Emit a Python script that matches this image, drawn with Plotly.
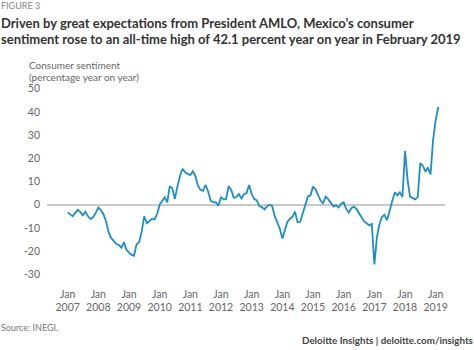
import pandas as pd
import plotly.graph_objects as go

# ---------------- data ----------------
start_month = "2007-01-01"
sentiment_yoy = [
    -3.3, -4.3, -5.0, -3.5, -2.2, -3.2, -4.5, -3.0, -5.0, -6.2, -5.3, -3.5,      # 2007
    -1.2, -2.3, -4.0, -7.0, -11.6, -14.3, -15.8, -16.8, -17.3, -18.5, -16.1, -19.4,  # 2008
    -20.6, -21.6, -22.0, -17.0, -16.1, -11.5, -5.0, -8.0, -7.0, -6.0, -6.3, -4.0,  # 2009
    0.0, 1.7, 3.2, 1.0, 8.0, 7.0, 2.5, 8.0, 12.5, 15.5, 13.9, 13.3,              # 2010
    12.8, 14.4, 12.5, 8.2, 6.4, 6.0, 8.6, 5.7, 1.7, 1.1, 1.0, -0.4,              # 2011
    3.2, 2.3, 2.5, 8.0, 6.5, 3.0, 3.3, 4.6, 2.7, 4.6, 5.0, 8.5,                  # 2012
    4.7, 2.4, 2.0, -0.6, -1.0, -2.0, -0.7, 0.0, -0.5, -4.8, -7.3, -10.2,         # 2013
    -14.5, -11.0, -7.4, -6.0, -5.2, -3.0, -7.5, -7.4, -4.0, -0.8, 3.6, 4.0,      # 2014
    7.8, 6.6, 4.5, 1.8, 0.7, 3.5, 2.4, 0.6, -0.8, -0.2, -1.2, 0.3,               # 2015
    1.0, -1.8, -3.4, -1.5, -0.8, -1.8, -3.6, -5.7, -7.2, -8.0, -8.9, -8.3,       # 2016
    -25.7, -13.6, -8.6, -5.3, -4.3, -6.7, -2.0, 1.5, 5.3, 4.0, 5.3, 3.3,         # 2017
    23.1, 10.5, 3.5, 2.9, 2.3, 3.3, 17.9, 16.8, 14.3, 16.0, 13.1, 28.0,          # 2018
    36.4, 42.1,                                                                  # 2019
]
months = pd.date_range(start_month, periods=len(sentiment_yoy), freq="MS")

x_tick_years = list(range(2007, 2020))
x_tick_vals = [f"{y}-01-01" for y in x_tick_years]
x_tick_text = [f"Jan<br>{y}" for y in x_tick_years]

y_tick_vals = [50, 40, 30, 20, 10, 0, -10, -20, -30]
y_tick_text = [str(v) for v in y_tick_vals]

title_lines = [
    "Driven by great expectations from President AMLO, Mexico’s consumer",
    "sentiment rose to an all-time high of 42.1 percent year on year in February 2019",
]
figure_label = "FIGURE 3"
axis_title_lines = ["Consumer sentiment", "(percentage year on year)"]
source_text = "Source: INEGI."
brand_text = "Deloitte Insights | deloitte.com/insights"

# ---------------- layout geometry ----------------
W, H = 474, 350
ML, MR, MT, MB = 47, 29, 84, 64
PW, PH = W - ML - MR, H - MT - MB

x0 = pd.Timestamp("2006-04-30")
x1 = x0 + pd.Timedelta(days=4740)
y_range = [-35, 52]

FONT = "Lato, Roboto, Open Sans, sans-serif"
BLUE = "#1a8fcd"


def px_to_paper(px, py):
    return (px - ML) / PW, (H - MB - py) / PH


fig = go.Figure()
fig.add_trace(go.Scatter(
    x=months, y=sentiment_yoy, mode="lines",
    line=dict(color=BLUE, width=1.8),
    showlegend=False, hoverinfo="x+y",
))

fig.update_layout(
    width=W, height=H,
    margin=dict(l=ML, r=MR, t=MT, b=MB),
    paper_bgcolor="white", plot_bgcolor="white",
    font=dict(family=FONT, color="#666666", size=10.5),
    xaxis=dict(
        type="date", range=[x0, x1],
        tickvals=x_tick_vals, ticktext=x_tick_text,
        showgrid=False, zeroline=False, showline=False, ticks="",
        tickfont=dict(family=FONT, size=10.5, color="#666666"),
        ticklabelstandoff=0,
    ),
    yaxis=dict(
        range=y_range, tickvals=y_tick_vals, ticktext=y_tick_text,
        showgrid=False, zeroline=True, zerolinecolor="#c9c9c9", zerolinewidth=2,
        showline=False, ticks="",
        tickfont=dict(family=FONT, size=10.5, color="#666666"),
        ticklabelstandoff=6,
    ),
)

ann = []


def add_text(text, px, py, size, color, xanchor="left", bold=False):
    ax, ay = px_to_paper(px, py)
    ann.append(dict(
        text=f"<b>{text}</b>" if bold else text,
        x=ax, y=ay, xref="paper", yref="paper",
        xanchor=xanchor, yanchor="middle", showarrow=False,
        font=dict(family=FONT, size=size, color=color),
    ))


add_text(figure_label, -1, 5.5, 9, "#888888")
add_text(title_lines[0], -1, 23.5, 13, "#333333", bold=True)
add_text(title_lines[1], -1, 38.5, 13, "#333333", bold=True)
add_text(axis_title_lines[0], 27, 65.5, 10, "#666666")
add_text(axis_title_lines[1], 27, 76.5, 10, "#666666")
add_text(source_text, -1, 327, 9, "#777777")
add_text(brand_text, 475, 340, 9.8, "#444444", xanchor="right", bold=True)

fig.update_layout(annotations=ann)
fig.write_html("out.html")
